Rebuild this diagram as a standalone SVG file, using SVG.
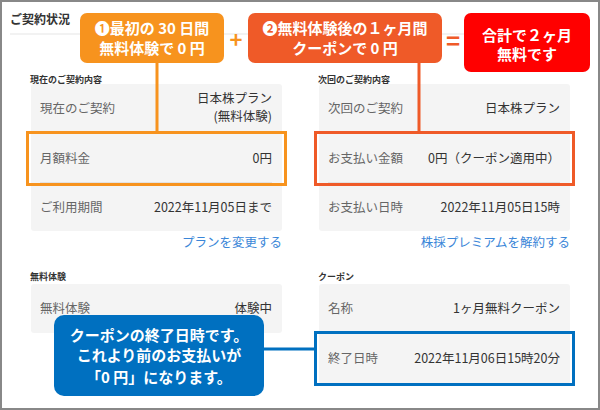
<svg xmlns="http://www.w3.org/2000/svg" width="600" height="410" viewBox="0 0 600 410">
<style>
text{font-family:"Noto Sans CJK JP","Noto Sans",sans-serif}
.card{fill:#f4f4f4}
.lb{font-size:12.5px;fill:#666}
.vl{font-size:12.5px;fill:#333;text-anchor:end}
.sec{font-size:9px;fill:#333;font-weight:bold}
.lnk{font-size:12.5px;fill:#3a86d8;text-anchor:end}
.bt{font-size:15px;fill:#fff;font-weight:bold;text-anchor:middle}
.div{stroke:#dcdcdc;stroke-width:1.5}
</style>
<rect x="1" y="1" width="598" height="408" fill="#fff" stroke="#888" stroke-width="2"/>
<text x="10" y="24" font-size="12" font-weight="bold" fill="#333">ご契約状況</text>
<line x1="10" y1="34" x2="590" y2="34" stroke="#eee" stroke-width="1.5"/>
<g id="left-current">
<text class="sec" x="30" y="83">現在のご契約内容</text>
<rect class="card" x="31" y="84" width="251" height="147" rx="3"/>
<text class="lb" x="40" y="113">現在のご契約</text>
<text class="vl" x="272" y="103">日本株プラン</text>
<text class="vl" x="272" y="121">(無料体験)</text>
<text class="lb" x="40" y="163">月額料金</text>
<text class="vl" x="272" y="163">0円</text>
<line class="div" x1="40" y1="183" x2="272" y2="183"/>
<text class="lb" x="40" y="212">ご利用期間</text>
<text class="vl" x="272" y="212">2022年11月05日まで</text>
<text class="lnk" x="282" y="247">プランを変更する</text>
</g>
<g id="right-next">
<text class="sec" x="318" y="83">次回のご契約内容</text>
<rect class="card" x="319" y="84" width="251" height="147" rx="3"/>
<text class="lb" x="328" y="113">次回のご契約</text>
<text class="vl" x="560" y="113">日本株プラン</text>
<text class="lb" x="328" y="163">お支払い金額</text>
<text class="vl" x="560" y="163">0円（クーポン適用中）</text>
<line class="div" x1="328" y1="183" x2="560" y2="183"/>
<text class="lb" x="328" y="212">お支払い日時</text>
<text class="vl" x="560" y="212">2022年11月05日15時</text>
<text class="lnk" x="570" y="247">株採プレミアムを解約する</text>
</g>
<g id="left-trial">
<text class="sec" x="30" y="280">無料体験</text>
<rect class="card" x="31" y="284" width="251" height="49" rx="3"/>
<text class="lb" x="40" y="313">無料体験</text>
<text class="vl" x="272" y="313">体験中</text>
</g>
<g id="right-coupon">
<text class="sec" x="318" y="280">クーポン</text>
<rect class="card" x="319" y="284" width="251" height="100" rx="3"/>
<text class="lb" x="328" y="313">名称</text>
<text class="vl" x="560" y="313">1ヶ月無料クーポン</text>
<text class="lb" x="328" y="363">終了日時</text>
<text class="vl" x="560" y="363">2022年11月06日15時20分</text>
</g>
<g id="connectors" fill="none" stroke-width="3">
<line x1="157" y1="63" x2="157" y2="132" stroke="#f7931e"/>
<line x1="419" y1="63" x2="419" y2="132" stroke="#ef5a28"/>
<line x1="264" y1="349" x2="315" y2="349" stroke="#0070c0"/>
<rect x="27.5" y="132.5" width="258" height="52" stroke="#f7931e"/>
<rect x="315.5" y="132.5" width="258" height="52" stroke="#ef5a28"/>
<rect x="315.5" y="332.5" width="258" height="52" stroke="#0070c0"/>
</g>
<g id="box1">
<rect x="80" y="13" width="144" height="50" rx="7" fill="#f7931e"/>
<text class="bt" x="152" y="34">❶最初の 30 日間</text>
<text class="bt" x="152" y="54">無料体験で 0 円</text>
</g>
<text x="236" y="48" font-size="22" font-weight="bold" fill="#f7931e" text-anchor="middle">+</text>
<g id="box2">
<rect x="248" y="13" width="194" height="50" rx="7" fill="#ef5a28"/>
<text class="bt" x="345" y="34">❷無料体験後の１ヶ月間</text>
<text class="bt" x="345" y="54">クーポンで 0 円</text>
</g>
<text x="453" y="50" font-size="24" font-weight="bold" fill="#ef5a28" text-anchor="middle">=</text>
<g id="box3">
<rect x="464" y="13" width="126" height="59" rx="7" fill="#ff0000"/>
<text class="bt" x="527" y="41" font-size="18">合計で２ヶ月</text>
<text class="bt" x="527" y="60" font-size="18">無料です</text>
</g>
<g id="callout">
<rect x="54" y="315" width="210" height="81" rx="10" fill="#0070c0"/>
<text class="bt" x="159" y="341">クーポンの終了日時です。</text>
<text class="bt" x="159" y="361">これより前のお支払いが</text>
<text class="bt" x="159" y="383">「0 円」になります。</text>
</g>
</svg>
